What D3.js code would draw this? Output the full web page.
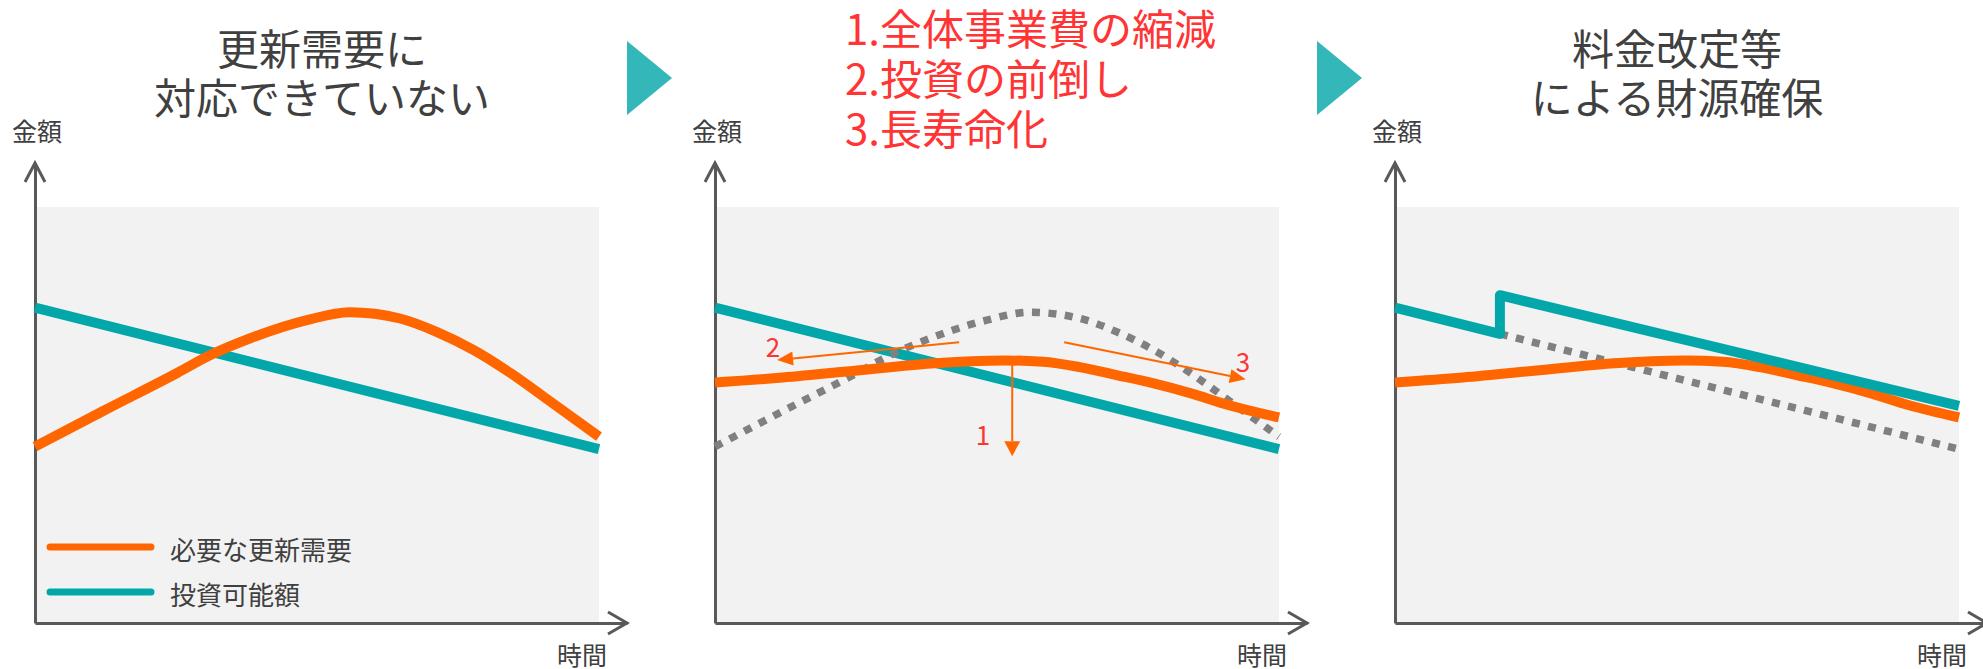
<!DOCTYPE html>
<html>
<head>
<meta charset="utf-8">
<script src="https://cdn.jsdelivr.net/npm/d3@7"></script>
<style>
html, body { margin: 0; padding: 0; background: #fff; }
svg { display: block; font-family: "Noto Sans CJK JP", "Noto Sans", sans-serif; }
</style>
</head>
<body>
<div id="chart"></div>
<script>
"use strict"

//-----------------------------DATA-----------------------------//
// x = time (0..100), y = amount (0..100)
const needT = [0, 12, 25.2, 31.1, 38.3, 48.2, 55.8, 64.7, 71.2, 77.8, 84.4, 91, 100];
const needValues = [42.4, 50.9, 60.1, 64.4, 68.5, 72.8, 74.7, 73.2, 70.0, 65.6, 60.0, 53.6, 44.8];

const reducedT = [0, 12, 25.2, 38.3, 51.5, 58.1, 64.7, 71.2, 77.8, 84.4, 91, 100];
const reducedValues = [57.8, 59.0, 60.7, 62.4, 63.1, 62.8, 61.5, 59.6, 57.6, 55.2, 52.4, 49.4];

const budgetT = [0, 100];
const budgetValues = [75.8, 41.8];

const raisedT = [0, 18.6, 18.6, 100];
const raisedValues = [75.8, 69.5, 78.8, 52.2];

const oldBudgetT = [18.6, 100];
const oldBudgetValues = [69.5, 41.8];

const titles = [
    ["更新需要に", "対応できていない"],
    ["1.全体事業費の縮減", "2.投資の前倒し", "3.長寿命化"],
    ["料金改定等", "による財源確保"]
];
const legendLabels = ["必要な更新需要", "投資可能額"];
const yAxisLabel = "金額";
const xAxisLabel = "時間";

// annotation arrows of the middle panel (data space)
const arrowLabels = ["1", "2", "3"];
const arrowFrom = [[52.7, 63.1], [43.3, 67.5], [61.9, 67.5]];
const arrowTo = [[52.7, 40.1], [11.0, 63.2], [94.1, 58.6]];
const arrowLabelAt = [[47.5, 45.6], [10.3, 66.6], [93.6, 63.0]];

//---------------------------LAYOUT-----------------------------//
const W = 1983, H = 669;
const plotW = 564, plotTop = 207, plotBottom = 623;
const axisTop = 163, axisRight = 592;
const panelX = [35, 715, 1395];
const titleX = [322, 845, 1677];

const ORANGE = "#ff6600";
const TEAL = "#03a7aa";
const DOT = "#808080";
const RED = "#ff3535";
const TEXT = "#404040";
const AXIS = "#595959";

const zip = (ts, vs) => ts.map((t, i) => [t, vs[i]]);

const svg = d3.select("#chart").append("svg")
    .attr("width", W)
    .attr("height", H);

const drawArrow = (g, p1, p2, headLen, headHalf) => {
    const dx = p2[0] - p1[0], dy = p2[1] - p1[1];
    const len = Math.hypot(dx, dy);
    const ux = dx / len, uy = dy / len;
    const bx = p2[0] - ux * headLen, by = p2[1] - uy * headLen;
    g.append("line")
        .attr("x1", p1[0]).attr("y1", p1[1])
        .attr("x2", bx).attr("y2", by)
        .attr("stroke", ORANGE)
        .attr("stroke-width", 2);
    g.append("path")
        .attr("d", `M${p2[0]},${p2[1]}L${bx - uy * headHalf},${by + ux * headHalf}L${bx + uy * headHalf},${by - ux * headHalf}Z`)
        .attr("fill", ORANGE);
};

// series per panel, in drawing order
const panels = [
    [
        { data: zip(budgetT, budgetValues), color: TEAL },
        { data: zip(needT, needValues), color: ORANGE }
    ],
    [
        { data: zip(budgetT, budgetValues), color: TEAL },
        { data: zip(needT, needValues), color: DOT, dotted: true },
        { data: zip(reducedT, reducedValues), color: ORANGE }
    ],
    [
        { data: zip(oldBudgetT, oldBudgetValues), color: DOT, dotted: true },
        { data: zip(reducedT, reducedValues), color: ORANGE },
        { data: zip(raisedT, raisedValues), color: TEAL, sharp: true }
    ]
];

panels.forEach((series, i) => {
    const x0 = panelX[i];
    const g = svg.append("g");

    //----------------------------SCALES----------------------------//
    const x = d3.scaleLinear().domain([0, 100]).range([x0, x0 + plotW]);
    const y = d3.scaleLinear().domain([0, 100]).range([plotBottom, plotTop]);

    // plot background
    g.append("rect")
        .attr("x", x(0))
        .attr("y", y(100))
        .attr("width", x(100) - x(0))
        .attr("height", y(0) - y(100))
        .attr("fill", "#f2f2f2");

    //-----------------------------AXES-----------------------------//
    const xAxisScale = d3.scaleLinear().domain([0, 1]).range([x0, x0 + axisRight]);
    const yAxisScale = d3.scaleLinear().domain([0, 1]).range([plotBottom, axisTop]);

    g.append("g")
        .attr("transform", `translate(0,${plotBottom})`)
        .call(d3.axisBottom(xAxisScale).tickValues([]).tickSizeOuter(0));
    g.append("g")
        .attr("transform", `translate(${x0},0)`)
        .call(d3.axisLeft(yAxisScale).tickValues([]).tickSizeOuter(0));
    g.selectAll(".domain")
        .attr("stroke", AXIS)
        .attr("stroke-width", 3);

    // open arrow heads
    g.append("path")
        .attr("d", `M${x0 - 10},${axisTop + 19}L${x0},${axisTop}L${x0 + 10},${axisTop + 19}`)
        .attr("fill", "none").attr("stroke", AXIS).attr("stroke-width", 3);
    g.append("path")
        .attr("d", `M${x0 + axisRight - 19},${plotBottom - 11}L${x0 + axisRight},${plotBottom}L${x0 + axisRight - 19},${plotBottom + 11}`)
        .attr("fill", "none").attr("stroke", AXIS).attr("stroke-width", 3);

    g.append("text")
        .attr("x", x0 - 23)
        .attr("y", 130)
        .attr("dominant-baseline", "central")
        .attr("font-size", 25)
        .attr("fill", TEXT)
        .text(yAxisLabel);
    g.append("text")
        .attr("x", x0 + 522)
        .attr("y", 654)
        .attr("dominant-baseline", "central")
        .attr("font-size", 25)
        .attr("fill", TEXT)
        .text(xAxisLabel);

    //-----------------------------LINES----------------------------//
    series.forEach(s => {
        const line = d3.line()
            .x(d => x(d[0]))
            .y(d => y(d[1]))
            .curve(s.sharp ? d3.curveLinear : d3.curveMonotoneX);
        g.append("path")
            .datum(s.data)
            .attr("d", line)
            .attr("fill", "none")
            .attr("stroke", s.color)
            .attr("stroke-width", s.dotted ? 7.5 : 10)
            .attr("stroke-dasharray", s.dotted ? "8,8.5" : null)
            .attr("stroke-linejoin", "round");
    });

    //-----------------------------TITLES---------------------------//
    const isList = i === 1;
    const title = g.append("text")
        .attr("text-anchor", isList ? "start" : "middle")
        .attr("font-size", 42)
        .attr("fill", isList ? RED : TEXT);
    titles[i].forEach((t, k) => {
        title.append("tspan")
            .attr("x", titleX[i])
            .attr("y", (isList ? 30 + k * 50 : 50 + k * 49) + 15)
            .text(t);
    });

    //---------------------------ANNOTATIONS------------------------//
    if (i === 1) {
        arrowLabels.forEach((lbl, k) => {
            const p1 = [x(arrowFrom[k][0]), y(arrowFrom[k][1])];
            const p2 = [x(arrowTo[k][0]), y(arrowTo[k][1])];
            drawArrow(g, p1, p2, k === 0 ? 15 : 16, k === 0 ? 8 : 7);
            g.append("text")
                .attr("x", x(arrowLabelAt[k][0]))
                .attr("y", y(arrowLabelAt[k][1]))
                .attr("text-anchor", "middle")
                .attr("dominant-baseline", "central")
                .attr("font-size", 26)
                .attr("fill", RED)
                .text(lbl);
        });
    }

    //-----------------------------LEGEND---------------------------//
    if (i === 0) {
        [ORANGE, TEAL].forEach((c, k) => {
            const ly = 547 + k * 45;
            g.append("line")
                .attr("x1", x0 + 15).attr("x2", x0 + 116)
                .attr("y1", ly).attr("y2", ly)
                .attr("stroke", c)
                .attr("stroke-width", 7)
                .attr("stroke-linecap", "round");
            g.append("text")
                .attr("x", x0 + 135)
                .attr("y", ly + 1)
                .attr("dominant-baseline", "central")
                .attr("font-size", 26)
                .attr("fill", TEXT)
                .text(legendLabels[k]);
        });
    }
});

// teal triangles between panels
[627, 1317].forEach(tx => {
    svg.append("path")
        .attr("d", `M${tx},41L${tx + 45},78L${tx},115Z`)
        .attr("fill", "#33b7b8");
});
</script>
</body>
</html>
